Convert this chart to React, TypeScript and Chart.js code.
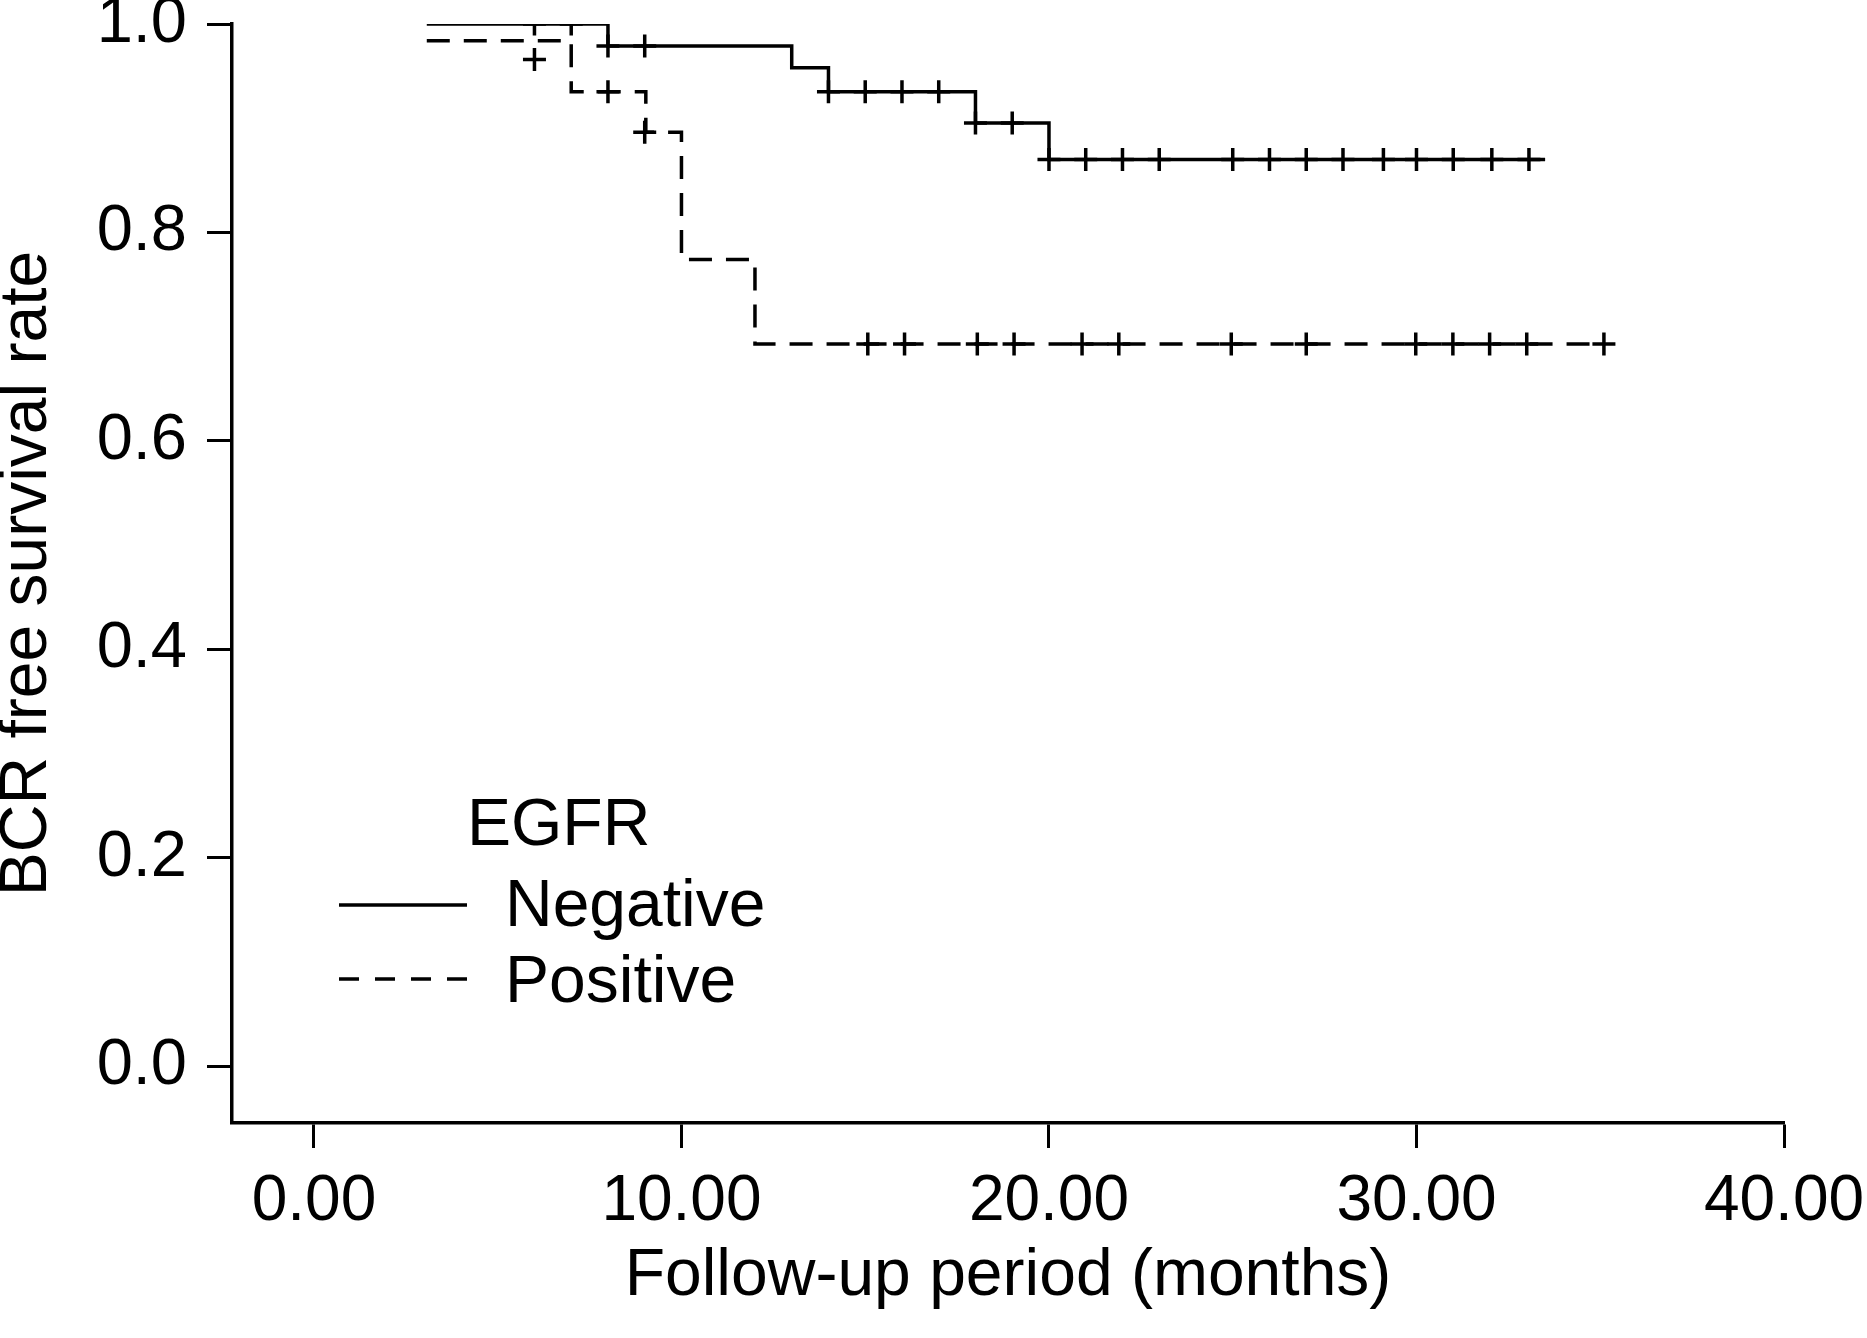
import React, { useEffect, useRef } from "react";
import { Chart, registerables } from "chart.js";

Chart.register(...registerables);

// ---- Data ----
const negTimes = [3.07, 8.0, 13.0, 14.0, 18.0, 20.0, 33.5];
const negSurv = [1.0, 0.979, 0.958, 0.935, 0.905, 0.87, 0.87];

const posTimes = [3.07, 7.0, 9.03, 10.0, 12.0, 35.1];
const posSurv = [0.984, 0.935, 0.896, 0.774, 0.693, 0.693];

const negCensorTimes = [6, 7, 8, 9, 14, 15, 16, 17, 18, 19, 20, 21, 22, 23, 25, 26, 27, 28, 29.1, 30, 31, 32.05, 33.06];
const negCensorSurv = [1.0, 1.0, 0.979, 0.979, 0.935, 0.935, 0.935, 0.935, 0.905, 0.905, 0.87, 0.87, 0.87, 0.87, 0.87, 0.87, 0.87, 0.87, 0.87, 0.87, 0.87, 0.87, 0.87];

const posCensorTimes = [6, 8, 9, 15.07, 16.07, 18.05, 19.05, 20.9, 21.9, 24.96, 27.0, 29.98, 30.99, 31.99, 33.0, 35.1];
const posCensorSurv = [0.966, 0.935, 0.896, 0.693, 0.693, 0.693, 0.693, 0.693, 0.693, 0.693, 0.693, 0.693, 0.693, 0.693, 0.693, 0.693];

const xTickValues = [0, 10, 20, 30, 40];
const yTickValues = [0, 0.2, 0.4, 0.6, 0.8, 1.0];

const legendTitle = "EGFR";
const seriesNames = ["Negative", "Positive"];
const xTitle = "Follow-up period (months)";
const yTitle = "BCR free survival rate";

const FONT = '"Liberation Sans", Arial, Helvetica, sans-serif';
const DASH = [23, 14];
const LW = 3.5;

const toPoints = (xs: number[], ys: number[]) => xs.map((x, i) => ({ x, y: ys[i] }));

const legendPlugin = {
  id: "kmLegend",
  afterDraw(chart: any) {
    const ctx = chart.ctx as CanvasRenderingContext2D;
    const a = chart.chartArea;
    ctx.save();
    ctx.fillStyle = "#000";
    ctx.strokeStyle = "#000";
    ctx.font = `66px ${FONT}`;
    ctx.textAlign = "left";
    ctx.textBaseline = "alphabetic";
    const lineX0 = a.left + 107;
    const lineX1 = a.left + 235;
    const textX = a.left + 273;
    ctx.fillText(legendTitle, a.left + 235, a.top + 821);
    ctx.lineWidth = LW;
    ctx.setLineDash([]);
    ctx.beginPath();
    ctx.moveTo(lineX0, a.top + 881);
    ctx.lineTo(lineX1, a.top + 881);
    ctx.stroke();
    ctx.fillText(seriesNames[0], textX, a.top + 902);
    ctx.setLineDash([20, 16]);
    ctx.beginPath();
    ctx.moveTo(lineX0, a.top + 955);
    ctx.lineTo(lineX1, a.top + 955);
    ctx.stroke();
    ctx.setLineDash([]);
    ctx.fillText(seriesNames[1], textX, a.top + 978);
    ctx.restore();
  },
};

export default function App() {
  const ref = useRef<HTMLCanvasElement | null>(null);

  useEffect(() => {
    document.body.style.margin = "0";
    document.body.style.overflow = "hidden";
    const canvas = ref.current;
    if (!canvas) return;

    const censorStyle = {
      showLine: false,
      pointStyle: "cross",
      pointRadius: 11.5,
      pointHoverRadius: 11.5,
      pointBorderWidth: LW,
      borderColor: "#000",
      backgroundColor: "#000",
    };

    const chart = new Chart(canvas, {
      type: "scatter",
      data: {
        datasets: [
          {
            label: seriesNames[0],
            data: toPoints(negTimes, negSurv),
            showLine: true,
            stepped: "before",
            borderColor: "#000",
            borderWidth: LW,
            pointRadius: 0,
            fill: false,
          },
          {
            label: seriesNames[1],
            data: toPoints(posTimes, posSurv),
            showLine: true,
            stepped: "before",
            borderColor: "#000",
            borderWidth: LW,
            borderDash: DASH,
            pointRadius: 0,
            fill: false,
          },
          { label: seriesNames[0] + " censored", data: toPoints(negCensorTimes, negCensorSurv), ...censorStyle },
          { label: seriesNames[1] + " censored", data: toPoints(posCensorTimes, posCensorSurv), ...censorStyle },
        ] as any,
      },
      options: {
        animation: false,
        responsive: false,
        devicePixelRatio: 1,
        layout: { padding: { top: 24, right: 83, left: 0, bottom: 0 } },
        plugins: { legend: { display: false }, tooltip: { enabled: false } },
        scales: {
          x: {
            type: "linear",
            min: -2.23,
            max: 40,
            afterBuildTicks: (s: any) => {
              s.ticks = xTickValues.map((v) => ({ value: v }));
            },
            afterFit: (s: any) => {
              s.height = 215;
              s.paddingLeft = 0;
              s.paddingRight = 0;
            },
            ticks: {
              callback: (v: any) => Number(v).toFixed(2),
              color: "#000",
              font: { family: FONT, size: 64 },
              padding: 16,
              maxRotation: 0,
              autoSkip: false,
            },
            grid: {
              drawOnChartArea: false,
              drawTicks: true,
              tickLength: 25,
              tickWidth: 3,
              tickColor: "#000",
            },
            border: { display: true, color: "#000", width: LW },
            title: {
              display: true,
              text: xTitle,
              color: "#000",
              font: { family: FONT, size: 66 },
              padding: { top: 0, bottom: 22 },
            },
          },
          y: {
            type: "linear",
            min: -0.0547,
            max: 1.0,
            afterBuildTicks: (s: any) => {
              s.ticks = yTickValues.map((v) => ({ value: v }));
            },
            afterFit: (s: any) => {
              s.width = 232;
              s.paddingTop = 0;
              s.paddingBottom = 0;
            },
            ticks: {
              callback: (v: any) => Number(v).toFixed(1),
              color: "#000",
              font: { family: FONT, size: 65 },
              padding: 20,
              autoSkip: false,
            },
            grid: {
              drawOnChartArea: false,
              drawTicks: true,
              tickLength: 25,
              tickWidth: 3,
              tickColor: "#000",
            },
            border: { display: true, color: "#000", width: LW },
            title: {
              display: true,
              text: yTitle,
              color: "#000",
              font: { family: FONT, size: 66 },
              padding: { top: -12, bottom: 0 },
            },
          },
        },
      } as any,
      plugins: [legendPlugin],
    });

    return () => chart.destroy();
  }, []);

  return <canvas ref={ref} width={1867} height={1338} style={{ display: "block", width: 1867, height: 1338 }} />;
}
